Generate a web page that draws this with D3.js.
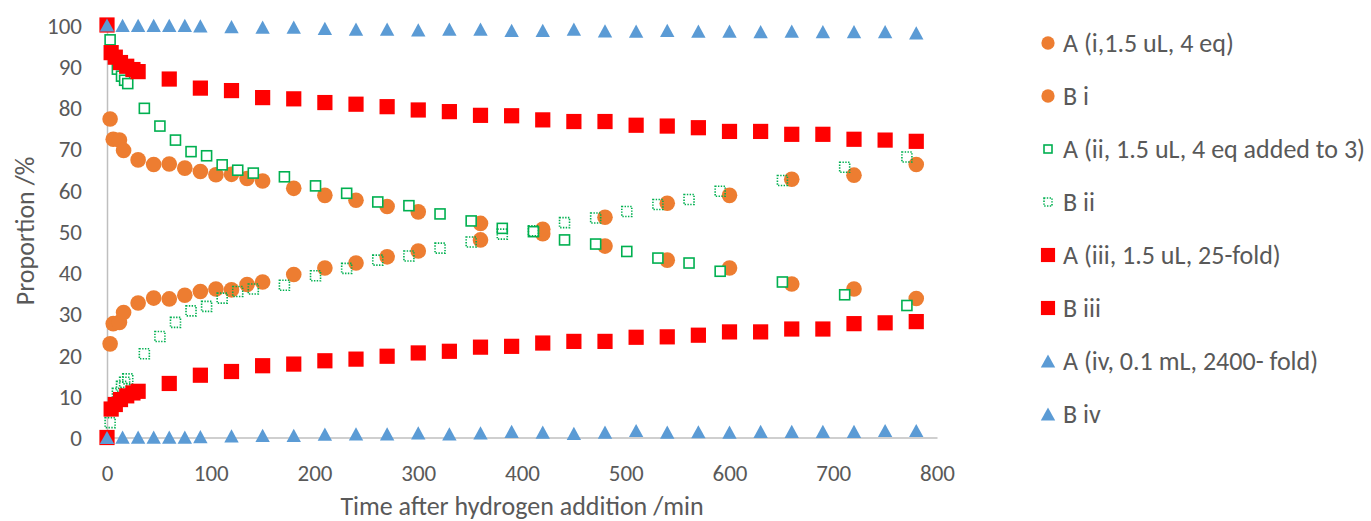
<!DOCTYPE html>
<html>
<head>
<meta charset="utf-8">
<script src="https://cdn.jsdelivr.net/npm/d3@7"></script>
<style>
  html, body { margin: 0; padding: 0; background: #ffffff; }
  svg { display: block; }
  text { font-family: Carlito, Calibri, Lato, sans-serif; fill: #595959; }
</style>
</head>
<body>
<svg id="chart" width="1371" height="521"></svg>
<script>
// Series i: 1.5 uL, 4 eq
const timeI = [3, 6, 12, 16, 30, 45, 60, 75, 90, 105, 120, 135, 150, 180, 210, 240, 270, 300, 360, 420, 480, 540, 600, 660, 720, 780];
const aI = [77.2, 72.3, 72.1, 69.6, 67.3, 66.2, 66.3, 65.3, 64.5, 63.7, 63.8, 62.8, 62.2, 60.4, 58.7, 57.5, 56.0, 54.7, 51.9, 49.4, 46.4, 43.0, 41.1, 37.2, 36.0, 33.7];
const bI = [22.7, 27.6, 27.9, 30.3, 32.6, 33.8, 33.6, 34.5, 35.4, 36.0, 35.8, 37.1, 37.7, 39.5, 41.1, 42.3, 43.8, 45.2, 47.9, 50.5, 53.4, 56.8, 58.7, 62.6, 63.6, 66.2];

// Series ii: 1.5 uL, 4 eq added to 3
const timeII = [3, 10, 14, 17, 20, 36, 51, 66, 81, 96, 111, 126, 141, 171, 201, 231, 261, 291, 321, 351, 381, 411, 441, 471, 501, 531, 561, 591, 651, 711, 771];
const aII = [96.4, 89.3, 87.6, 86.6, 85.8, 79.8, 75.5, 72.1, 69.3, 68.3, 66.1, 64.8, 64.1, 63.2, 61.0, 59.2, 57.1, 56.2, 54.2, 52.5, 50.7, 49.9, 47.9, 46.9, 45.1, 43.5, 42.3, 40.3, 37.7, 34.6, 32.0];
const bII = [3.6, 10.7, 12.4, 13.4, 14.2, 20.3, 24.5, 27.9, 30.7, 31.8, 33.8, 35.4, 36.0, 36.9, 39.2, 41.0, 43.0, 44.0, 45.9, 47.4, 49.3, 50.1, 52.1, 53.2, 54.8, 56.5, 57.7, 59.7, 62.3, 65.5, 68.0];

// Series iii: 1.5 uL, 25-fold
const timeIII = [0, 4, 8, 13, 19, 25, 30, 60, 90, 120, 150, 180, 210, 240, 270, 300, 330, 360, 390, 420, 450, 480, 510, 540, 570, 600, 630, 660, 690, 720, 750, 780];
const aIII = [100, 93.3, 92.2, 90.9, 90.0, 89.2, 88.7, 86.9, 84.7, 84.1, 82.4, 82.1, 81.2, 80.8, 80.2, 79.4, 79.0, 78.1, 78.0, 77.0, 76.6, 76.6, 75.7, 75.5, 75.1, 74.2, 74.2, 73.5, 73.5, 72.3, 72.1, 71.8];
const bIII = [0, 6.9, 8.0, 9.2, 10.1, 10.8, 11.2, 13.1, 15.1, 16.0, 17.4, 17.8, 18.6, 19.0, 19.7, 20.5, 20.9, 21.9, 22.1, 22.9, 23.3, 23.3, 24.3, 24.4, 24.8, 25.6, 25.6, 26.3, 26.3, 27.6, 27.8, 28.1];

// Series iv: 0.1 mL, 2400-fold
const timeIV = [0, 15, 30, 45, 60, 75, 90, 120, 150, 180, 210, 240, 270, 300, 330, 360, 390, 420, 450, 480, 510, 540, 570, 600, 630, 660, 690, 720, 750, 780];
const aIV = [100, 99.9, 99.9, 99.9, 99.9, 99.9, 99.8, 99.6, 99.5, 99.5, 99.2, 99.0, 99.0, 98.8, 99.0, 99.0, 98.7, 98.7, 99.0, 98.6, 98.5, 98.7, 98.5, 98.5, 98.4, 98.5, 98.4, 98.4, 98.4, 98.1];
const bIV = [0, 0.1, 0.1, 0.1, 0.1, 0.1, 0.2, 0.4, 0.5, 0.5, 0.8, 0.9, 0.9, 1.1, 0.9, 1.1, 1.5, 1.3, 1.0, 1.3, 1.7, 1.3, 1.4, 1.3, 1.5, 1.5, 1.5, 1.5, 1.7, 1.7];

const xTicks = [0, 100, 200, 300, 400, 500, 600, 700, 800];
const yTicks = [0, 10, 20, 30, 40, 50, 60, 70, 80, 90, 100];

const seriesNames = [
  "A (i,1.5 uL, 4 eq)", "B i",
  "A (ii, 1.5 uL, 4 eq added to 3)", "B ii",
  "A (iii, 1.5 uL, 25-fold)", "B iii",
  "A (iv, 0.1 mL, 2400- fold)", "B iv"
];

const ORANGE = "#ED7D31", GREEN = "#00B050", RED = "#FF0000", BLUE = "#5B9BD5";

const series = [
  { name: seriesNames[0], t: timeI, v: aI, marker: "circle" },
  { name: seriesNames[1], t: timeI, v: bI, marker: "circle" },
  { name: seriesNames[2], t: timeII, v: aII, marker: "openSquare" },
  { name: seriesNames[3], t: timeII, v: bII, marker: "dotSquare" },
  { name: seriesNames[4], t: timeIII, v: aIII, marker: "square" },
  { name: seriesNames[5], t: timeIII, v: bIII, marker: "square" },
  { name: seriesNames[6], t: timeIV, v: aIV, marker: "triangle" },
  { name: seriesNames[7], t: timeIV, v: bIV, marker: "triangle" }
];

const svg = d3.select("#chart");
const plot = { left: 107, right: 937, top: 25, bottom: 437.5 };

const x = d3.scaleLinear().domain([0, 800]).range([plot.left, plot.right]);
const y = d3.scaleLinear().domain([0, 100]).range([plot.bottom, plot.top]);

// Axes
const xAxis = svg.append("g")
  .attr("transform", `translate(0,${plot.bottom})`)
  .call(d3.axisBottom(x).tickValues(xTicks).tickSize(0).tickPadding(0).tickFormat(d3.format("d")));
xAxis.select(".domain").attr("stroke", "#BFBFBF").attr("stroke-width", 1.5);
xAxis.selectAll("text").attr("y", 35).attr("dy", "0.35em")
  .style("font-size", "23px").style("fill", "#595959");

const yAxis = svg.append("g")
  .attr("transform", `translate(${plot.left},0)`)
  .call(d3.axisLeft(y).tickValues(yTicks).tickSize(0).tickPadding(25).tickFormat(d3.format("d")));
yAxis.select(".domain").attr("stroke", "#BFBFBF").attr("stroke-width", 1.5);
yAxis.selectAll("text").attr("dy", "0.35em")
  .style("font-size", "23px").style("fill", "#595959");

// Axis titles
svg.append("text")
  .attr("x", 522)
  .attr("y", 515)
  .attr("text-anchor", "middle")
  .style("font-size", "26px")
  .text("Time after hydrogen addition /min");

svg.append("text")
  .attr("transform", `translate(25,231) rotate(-90)`)
  .attr("dy", "0.35em")
  .attr("text-anchor", "middle")
  .style("font-size", "26px")
  .text("Proportion /%");

// Marker drawing
function drawMarker(sel, kind, scale) {
  const s = scale || 1;
  if (kind === "circle") {
    sel.append("circle").attr("r", 7.8 * s).attr("fill", ORANGE);
  } else if (kind === "openSquare") {
    const h = 5 * s;
    sel.append("rect").attr("x", -h).attr("y", -h).attr("width", 2 * h).attr("height", 2 * h)
      .attr("fill", "#ffffff").attr("stroke", GREEN).attr("stroke-width", 1.6);
  } else if (kind === "dotSquare") {
    const h = 5 * s;
    sel.append("rect").attr("x", -h).attr("y", -h).attr("width", 2 * h).attr("height", 2 * h)
      .attr("fill", "none").attr("stroke", GREEN).attr("stroke-width", 1.6)
      .attr("stroke-dasharray", "1.4 1.4");
  } else if (kind === "square") {
    const h = 7.6 * s;
    sel.append("rect").attr("x", -h).attr("y", -h).attr("width", 2 * h).attr("height", 2 * h)
      .attr("fill", RED);
  } else if (kind === "triangle") {
    const w = 7.2 * s, hh = 6.6 * s;
    sel.append("path").attr("d", `M0,${-hh}L${w},${hh}L${-w},${hh}Z`).attr("fill", BLUE);
  }
}

// Data points
const marks = svg.append("g");
series.forEach(sr => {
  const pts = sr.t.map((t, i) => ({ t, v: sr.v[i] }));
  marks.append("g").selectAll("g")
    .data(pts)
    .join("g")
    .attr("transform", d => `translate(${x(d.t)},${y(d.v)})`)
    .each(function () { drawMarker(d3.select(this), sr.marker, 1); });
});

// Legend
const legendY = d3.scalePoint().domain(seriesNames).range([43, 414]);
const legend = svg.append("g");
series.forEach(sr => {
  const row = legend.append("g").attr("transform", `translate(1048,${legendY(sr.name)})`);
  const sc = sr.marker === "circle" ? 0.85 : sr.marker === "square" ? 0.93 : sr.marker === "triangle" ? 1 : 0.8;
  drawMarker(row.append("g"), sr.marker, sc);
  row.append("text").attr("x", 15).attr("dy", "0.35em").style("font-size", "26px").text(sr.name);
});
</script>
</body>
</html>
